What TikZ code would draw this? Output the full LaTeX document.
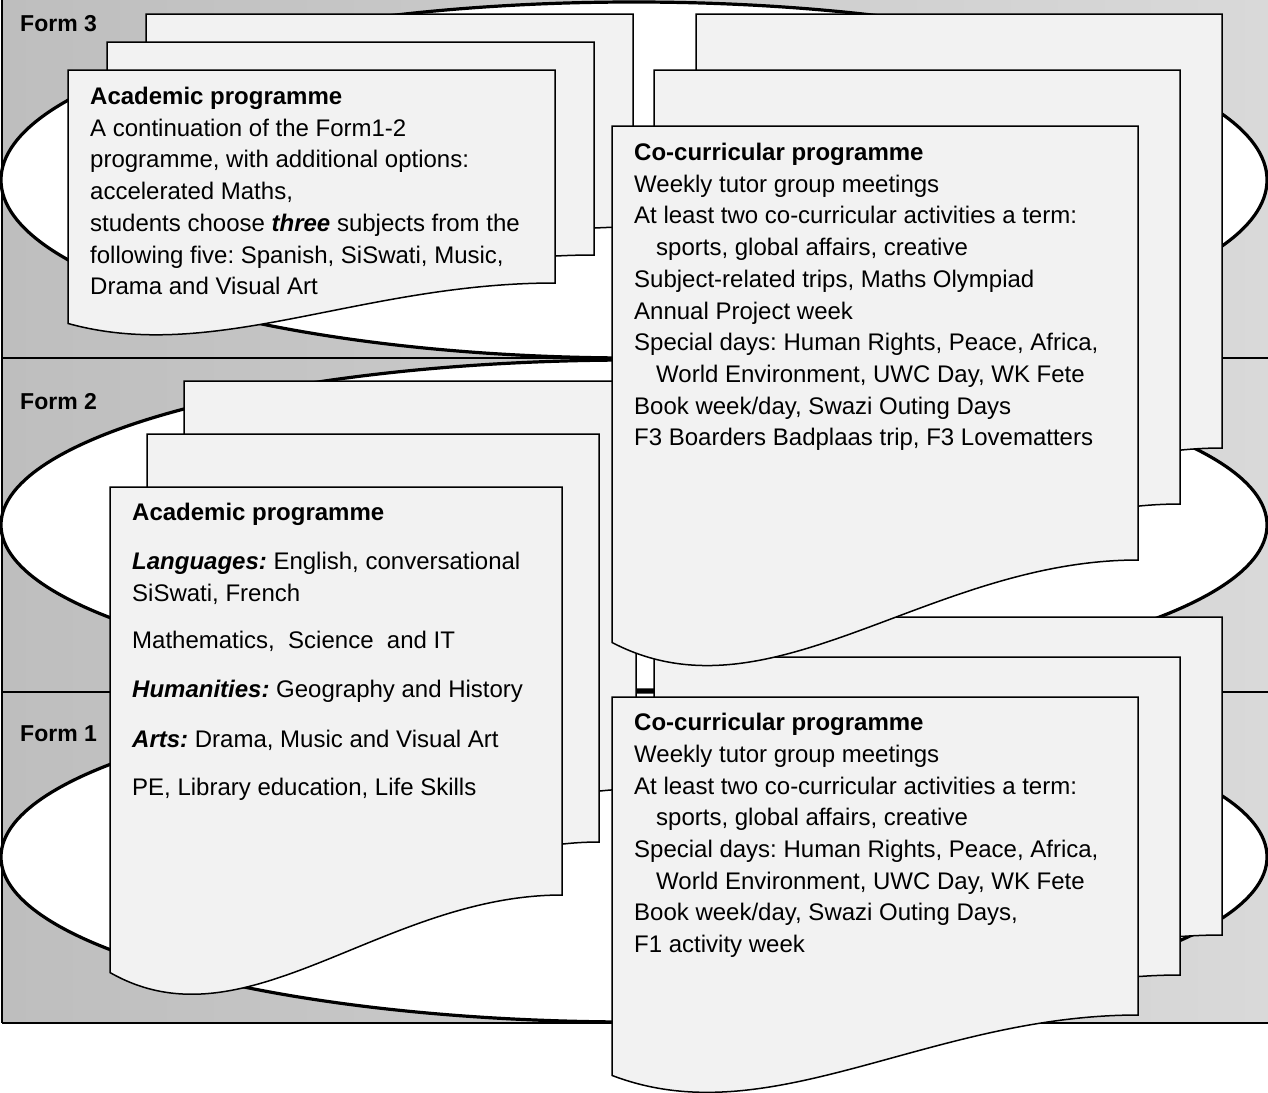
\documentclass[tikz,border=0pt]{standalone}
\usepackage{fontspec}
\setmainfont{Liberation Sans}
\usepackage{tikz}
\frenchspacing

\definecolor{pagegrey}{RGB}{242,242,242}
\definecolor{banddark}{RGB}{190,190,190}
\definecolor{bandlight}{RGB}{217,217,217}

% one sheet with a wavy bottom: left, top, right, bottom (right end)
\newcommand{\onepage}[4]{%
	\pgfmathsetmacro{\wavedip}{0.19*((#4)-(#2))}%
	\pgfmathsetmacro{\cxa}{(#1)+0.6*((#3)-(#1))}%
	\pgfmathsetmacro{\cxb}{(#1)+0.3*((#3)-(#1))}%
	\filldraw[page] ({#1},{#2}) -- ({#3},{#2}) -- ({#3},{#4})
		.. controls (\cxa,{#4}) and (\cxb,{#4+2*\wavedip}) .. ({#1},{#4+\wavedip}) -- cycle;
}
% three sheets, back ones shifted by dx, dy
\newcommand{\pagestack}[6]{%
	\foreach \k in {2,1,0}
	{
		\onepage{#1+\k*(#5)}{#2+\k*(#6)}{#3+\k*(#5)}{#4+\k*(#6)}
	}
}

\begin{document}
\begin{tikzpicture}[x=1pt,y=-1pt,
	page/.style={fill=pagegrey,draw=black,line width=1.5pt},
	ring/.style={fill=white,draw=black,line width=3.2pt},
	txt/.style={font=\fontsize{24}{31.7}\selectfont,align=left,inner sep=0pt,anchor=north west},
	lbl/.style={font=\bfseries\fontsize{23}{28}\selectfont,inner sep=0pt,anchor=west}]
	\useasboundingbox (0,0) rectangle (1268,1092);

	% bands
	\shade[left color=banddark,right color=bandlight] (2,0) rectangle (1268,1023);
	\draw[line width=1.6pt] (1268,358) -- (2,358);
	\draw[line width=1.6pt] (1268,692) -- (2,692);
	\draw[line width=1.6pt] (2,0) -- (2,1023);
	\draw[line width=2.4pt] (2,1023) -- (1268,1023);
	\draw[ring] (634,180) ellipse [x radius=633pt, y radius=178pt];
	\draw[ring] (634,525) ellipse [x radius=633pt, y radius=165pt];
	\draw[ring] (634,857) ellipse [x radius=633pt, y radius=165pt];

	\node[lbl] (formThree) at (20,24) {Form 3};
	\node[lbl] (formTwo) at (20,402) {Form 2};
	\node[lbl] (formOne) at (20,734) {Form 1};

	% sheets
	\pagestack{110}{487}{562}{895}{37}{-53}
	\pagestack{612}{697}{1138}{1015}{42}{-40}
	\pagestack{68}{70}{555}{283}{39}{-28}
	\pagestack{612}{126}{1138}{560}{42}{-56}

	\node[txt] (acadThree) at (90,87) {\textbf{Academic programme}\\
		A continuation of the Form1-2\\
		programme, with additional options:\\
		accelerated Maths,\\
		students choose \textbf{\textit{three}} subjects from the\\
		following five: Spanish, SiSwati, Music,\\
		Drama and Visual Art};
	\node[txt] (cocurThree) at (634,143) {\textbf{Co-curricular programme}\\
		Weekly tutor group meetings\\
		At least two co-curricular activities a term:\\
		\hspace*{22pt}sports, global affairs, creative\\
		Subject-related trips, Maths Olympiad\\
		Annual Project week\\
		Special days: Human Rights, Peace, Africa,\\
		\hspace*{22pt}World Environment, UWC Day, WK Fete\\
		Book week/day, Swazi Outing Days\\
		F3 Boarders Badplaas trip, F3 Lovematters};
	\node[txt] (acadOneTwo) at (132,503) {\textbf{Academic programme}\\[17pt]
		\textbf{\textit{Languages:}} English, conversational\\
		SiSwati, French\\[16pt]
		Mathematics,\ \ Science\ \ and IT\\[17pt]
		\textbf{\textit{Humanities:}} Geography and History\\[18pt]
		\textbf{\textit{Arts:}} Drama, Music and Visual Art\\[17pt]
		PE, Library education, Life Skills};
	\node[txt] (cocurOne) at (634,713) {\textbf{Co-curricular programme}\\
		Weekly tutor group meetings\\
		At least two co-curricular activities a term:\\
		\hspace*{22pt}sports, global affairs, creative\\
		Special days: Human Rights, Peace, Africa,\\
		\hspace*{22pt}World Environment, UWC Day, WK Fete\\
		Book week/day, Swazi Outing Days,\\
		F1 activity week};
\end{tikzpicture}
\end{document}
